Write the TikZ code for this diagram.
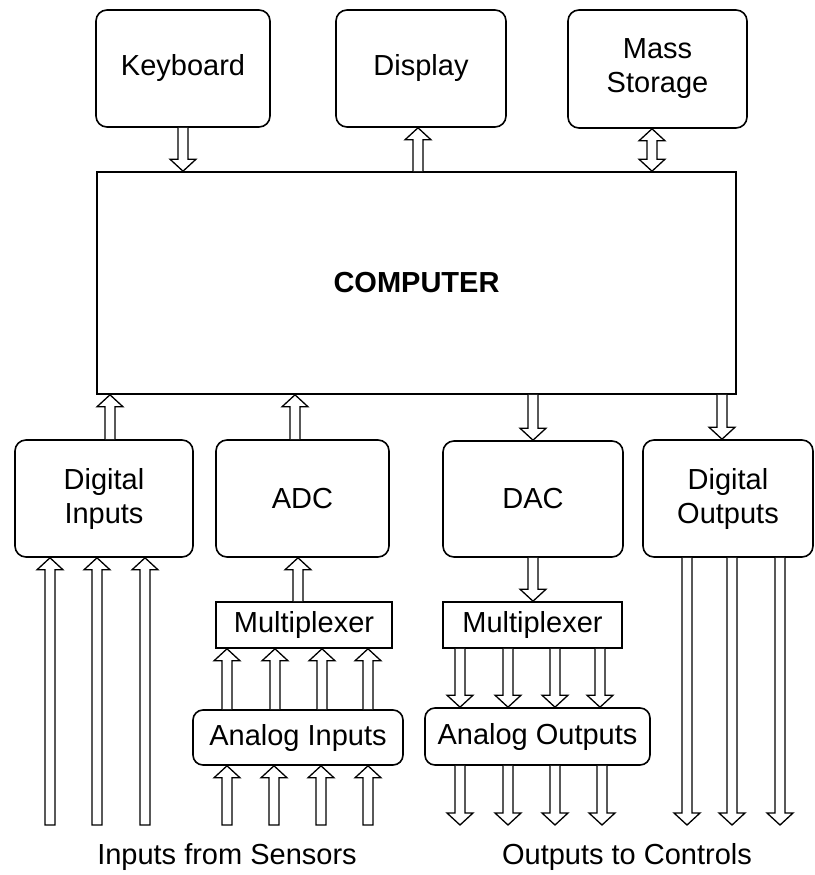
\documentclass[tikz,border=0pt]{standalone}
\usepackage{fontspec}
\setmainfont{Liberation Sans}
\usetikzlibrary{calc}
% hollow arrow from #1 to #2 (vertical), open tail
\newcommand\harr[2]{\draw[harrow] let \p1=(#1),\p2=(#2),\n1={(\y2>\y1)?(\y2-12pt):(\y2+12pt)} in
  (\x1-5pt,\y1) -- (\x1-5pt,\n1*1pt) -- (\x1-13pt,\n1*1pt) -- (\x1,\y2) -- (\x1+13pt,\n1*1pt) -- (\x1+5pt,\n1*1pt) -- (\x1+5pt,\y1);}
% hollow arrow with closed tail
\newcommand\harrc[2]{\draw[harrow] let \p1=(#1),\p2=(#2),\n1={(\y2>\y1)?(\y2-12pt):(\y2+12pt)} in
  (\x1-5pt,\y1) -- (\x1-5pt,\n1*1pt) -- (\x1-13pt,\n1*1pt) -- (\x1,\y2) -- (\x1+13pt,\n1*1pt) -- (\x1+5pt,\n1*1pt) -- (\x1+5pt,\y1) -- cycle;}
\begin{document}
\begin{tikzpicture}[x=1pt,y=-1pt,
  txt/.style={font=\fontsize{29}{34}\selectfont},
  box/.style={txt,draw,line width=1.6pt,rounded corners=11pt,inner sep=0pt,align=center},
  sbox/.style={txt,draw,line width=1.6pt,inner sep=0pt,align=center},
  harrow/.style={draw,fill=white,line width=1.3pt,line join=miter}]
\useasboundingbox (0,0) rectangle (814,875);
% top row
\node[box,minimum width=174pt,minimum height=117pt] (kbd) at (183,68.5) {Keyboard};
\node[box,minimum width=170pt,minimum height=117pt] (disp) at (421,68.5) {Display};
\node[box,minimum width=179pt,minimum height=118pt] (ms) at (657.5,69) {Mass\\Storage};
% computer
\node[sbox,minimum width=639pt,minimum height=222pt] (comp) at (416.5,283) {\textbf{COMPUTER}};
% second row
\node[box,minimum width=178pt,minimum height=117pt] (din) at (104,498.5) {Digital\\Inputs};
\node[box,minimum width=173pt,minimum height=117pt] (adc) at (302.5,498.5) {ADC};
\node[box,minimum width=180pt,minimum height=116pt] (dac) at (533,499) {DAC};
\node[box,minimum width=170pt,minimum height=117pt] (dout) at (728,498.5) {Digital\\Outputs};
% multiplexers
\node[sbox,minimum width=176pt,minimum height=46pt] (muxl) at (304,625) {Multiplexer};
\node[sbox,minimum width=179pt,minimum height=46pt] (muxr) at (532.5,625) {Multiplexer};
% analog boxes
\node[box,rounded corners=10pt,minimum width=210pt,minimum height=55pt] (ain) at (298,737.5) {Analog Inputs};
\node[box,rounded corners=10pt,minimum width=225pt,minimum height=57pt] (aout) at (537.5,736.5) {Analog Outputs};
% captions
\node[txt] (cin) at (227,857) {Inputs from Sensors};
\node[txt] (cout) at (627,857) {Outputs to Controls};
% free ends
\coordinate (s1) at (50,825);
\coordinate (s2) at (97,825);
\coordinate (s3) at (145,825);
\coordinate (a1) at (227,825);
\coordinate (a2) at (274,825);
\coordinate (a3) at (321,825);
\coordinate (a4) at (368,825);
\coordinate (o1) at (460,825);
\coordinate (o2) at (508,825);
\coordinate (o3) at (555,825);
\coordinate (o4) at (602,825);
\coordinate (d1) at (687,825);
\coordinate (d2) at (732,825);
\coordinate (d3) at (780,825);
% top arrows
\harr{183,0 |- kbd.south}{183,0 |- comp.north}
\harr{418,0 |- comp.north}{418,0 |- disp.south}
\draw[harrow] let \p1=(652,0 |- ms.south), \p2=(652,0 |- comp.north) in
  (\x1,\y1) -- (\x1+13pt,\y1-12pt) -- (\x1+5pt,\y1-12pt) -- (\x1+5pt,\y2+12pt) -- (\x1+13pt,\y2+12pt) -- (\x1,\y2)
  -- (\x1-13pt,\y2+12pt) -- (\x1-5pt,\y2+12pt) -- (\x1-5pt,\y1-12pt) -- (\x1-13pt,\y1-12pt) -- cycle;
% computer <-> second row
\harr{110,0 |- din.north}{110,0 |- comp.south}
\harr{295,0 |- adc.north}{295,0 |- comp.south}
\harr{533,0 |- comp.south}{533,0 |- dac.north}
\harr{722,0 |- comp.south}{722,0 |- dout.north}
% digital inputs
\harrc{s1}{s1 |- din.south}
\harrc{s2}{s2 |- din.south}
\harrc{s3}{s3 |- din.south}
% analog input chain
\harrc{a1}{a1 |- ain.south}
\harrc{a2}{a2 |- ain.south}
\harrc{a3}{a3 |- ain.south}
\harrc{a4}{a4 |- ain.south}
\harr{227,0 |- ain.north}{227,0 |- muxl.south}
\harr{275,0 |- ain.north}{275,0 |- muxl.south}
\harr{322,0 |- ain.north}{322,0 |- muxl.south}
\harr{368,0 |- ain.north}{368,0 |- muxl.south}
\harr{298,0 |- muxl.north}{298,0 |- adc.south}
% analog output chain
\harr{533,0 |- dac.south}{533,0 |- muxr.north}
\harr{460,0 |- muxr.south}{460,0 |- aout.north}
\harr{508,0 |- muxr.south}{508,0 |- aout.north}
\harr{555,0 |- muxr.south}{555,0 |- aout.north}
\harr{600,0 |- muxr.south}{600,0 |- aout.north}
\harr{o1 |- aout.south}{o1}
\harr{o2 |- aout.south}{o2}
\harr{o3 |- aout.south}{o3}
\harr{o4 |- aout.south}{o4}
% digital outputs
\harr{d1 |- dout.south}{d1}
\harr{d2 |- dout.south}{d2}
\harr{d3 |- dout.south}{d3}
\end{tikzpicture}
\end{document}
